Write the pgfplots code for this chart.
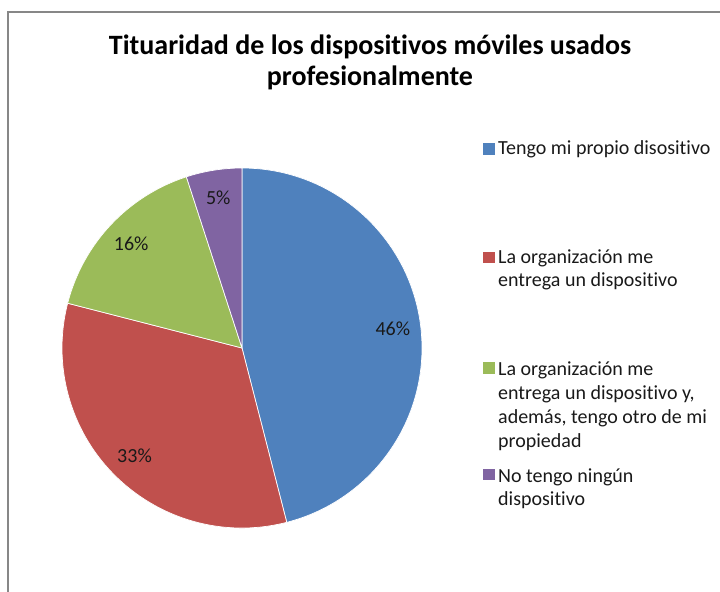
\documentclass[border=0pt]{standalone}
\usepackage{pgfplots}
\pgfplotsset{compat=1.18}
\usepackage{pgfplotstable}
\usepackage{fontspec}
\setmainfont{Carlito}[RawFeature={-liga;-clig;-dlig;-calt;-rlig}]
\definecolor{slice0}{HTML}{4F81BD}
\definecolor{slice1}{HTML}{C0504D}
\definecolor{slice2}{HTML}{9BBB59}
\definecolor{slice3}{HTML}{8064A2}
\definecolor{framegray}{HTML}{878787}

\pgfplotstableread{
idx value
0 46
1 33
2 16
3 5
}\piedata

\begin{document}
\begin{tikzpicture}
\path[use as bounding box] (0,0) rectangle (720bp,592bp);
% cumulative angles from the data
\gdef\cum{0}
\foreach \i in {0,1,2,3}{%
  \pgfplotstablegetelem{\i}{value}\of\piedata
  \let\val\pgfplotsretval
  \pgfmathsetmacro\pS{90-3.6*\cum}%
  \pgfmathsetmacro\pE{90-3.6*(\cum+\val)}%
  \pgfmathsetmacro\pM{(\pS+\pE)/2}%
  \expandafter\xdef\csname ps\i\endcsname{\pS}%
  \expandafter\xdef\csname pe\i\endcsname{\pE}%
  \expandafter\xdef\csname pm\i\endcsname{\pM}%
  \expandafter\xdef\csname pv\i\endcsname{\val}%
  \pgfmathsetmacro\newcum{\cum+\val}%
  \xdef\cum{\newcum}%
}
\begin{axis}[
  at={(0,0)}, anchor=origin,
  x=1bp, y=1bp,
  xmin=0, xmax=720, ymin=0, ymax=592,
  hide axis, clip=false,
]
% frame
\draw[framegray, line width=2bp] (axis cs:8,0) -- (axis cs:8,580) -- (axis cs:720,580);
% pie slices
\pgfplotsinvokeforeach{0,1,2,3}{%
  \fill[slice#1, draw=white, line width=0.7bp]
    (axis cs:242,244) -- ++(\csname ps#1\endcsname:180bp)
    arc[start angle=\csname ps#1\endcsname, end angle=\csname pe#1\endcsname, radius=180bp] -- cycle;
}
\pgfplotsinvokeforeach{0,1,2,3}{%
  \path (axis cs:242,244) ++(\csname pm#1\endcsname:152bp)
    node[font=\fontsize{20bp}{24bp}\selectfont, text=black!90] {\csname pv#1\endcsname\%};
}
% title
\node[align=center, font=\fontsize{28bp}{31bp}\selectfont\bfseries] at (axis cs:370,530)
  {Tituaridad de los dispositivos móviles usados\\profesionalmente};
% legend
\fill[slice0] (axis cs:483,437) rectangle (axis cs:495,449);
\fill[slice1] (axis cs:483,329) rectangle (axis cs:495,340);
\fill[slice2] (axis cs:483,218) rectangle (axis cs:495,230);
\fill[slice3] (axis cs:483,112) rectangle (axis cs:495,123);
\begin{scope}[every node/.style={anchor=base west, inner sep=0pt,
  font=\fontsize{20bp}{24bp}\selectfont, text=black!90}]
\node at (axis cs:498,437) {Tengo mi propio disositivo};
\node at (axis cs:498,329) {La organización me};
\node at (axis cs:498,306) {entrega un dispositivo};
\node at (axis cs:498,217) {La organización me};
\node at (axis cs:498,193) {entrega un dispositivo y,};
\node at (axis cs:498,169) {además, tengo otro de mi};
\node at (axis cs:498,145) {propiedad};
\node at (axis cs:498,110) {No tengo ningún};
\node at (axis cs:498,87) {dispositivo};
\end{scope}
\end{axis}
\end{tikzpicture}
\end{document}
